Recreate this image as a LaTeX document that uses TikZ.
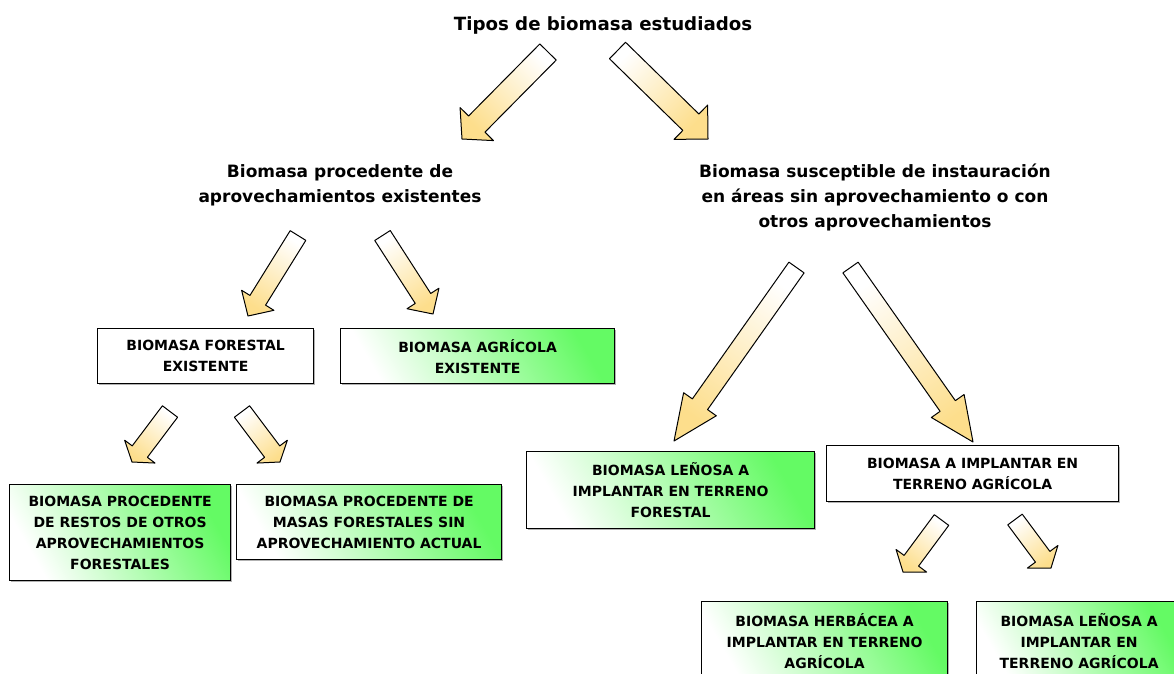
\documentclass[tikz,border=0pt]{standalone}
\usepackage{fontspec}
\setmainfont{DejaVu Sans}
\usetikzlibrary{calc,shadows}

\definecolor{boxgreen}{RGB}{100,250,100}
\definecolor{arrowfill}{RGB}{253,222,140}

\tikzset{
  heading/.style={font=\bfseries\fontsize{17}{25}\selectfont, align=center},
  box/.style={draw=black, line width=1.2pt, anchor=north west, align=center,
    font=\bfseries\fontsize{14}{21}\selectfont, inner sep=0pt,
    drop shadow={shadow xshift=1.2pt, shadow yshift=-1.2pt, fill=black!30, opacity=1}},
  whitebox/.style={box, fill=white},
  greenbox/.style={box, top color=boxgreen, bottom color=white, shading angle=-60},
  fatarrow/.style={draw=black, line width=1pt, line join=round},
}

% block arrow: tail, tip, half shaft, half head, head length
\newcommand\bigarrow[5]{%
  \pgfmathanglebetweenpoints{\pgfpointanchor{#1}{center}}{\pgfpointanchor{#2}{center}}%
  \pgfmathsetmacro\arrowshade{\pgfmathresult-90}%
  \coordinate (#1base) at ($(#2)!#5!(#1)$);
  \draw[fatarrow, top color=arrowfill, bottom color=white, shading angle=\arrowshade]
    ($(#1)!#3!90:(#2)$) -- ($(#1base)!#3!90:(#2)$) -- ($(#1base)!#4!90:(#2)$) -- (#2)
    -- ($(#1base)!#4!-90:(#2)$) -- ($(#1base)!#3!-90:(#2)$) -- ($(#1)!#3!-90:(#2)$) -- cycle;
}

\begin{document}
\begin{tikzpicture}[x=1pt,y=-1pt]
  \clip (0,0) rectangle (1174,673);
  \fill[white] (0,0) rectangle (1174,673);
  % headings
  \node[heading, font=\bfseries\fontsize{18.2}{25}\selectfont] (title) at (603,25)
    {Tipos de biomasa estudiados};
  \node[heading] (left) at (340,185)
    {Biomasa procedente de\\aprovechamientos existentes};
  \node[heading] (right) at (875,197)
    {Biomasa susceptible de instauración\\en áreas sin aprovechamiento o con\\otros aprovechamientos};
  % existing biomass
  \node[whitebox, minimum width=216pt, minimum height=55pt] (forestal) at (97,328)
    {BIOMASA FORESTAL\\EXISTENTE};
  \node[greenbox, minimum width=274pt, minimum height=55pt] (agricola) at (340,328)
    {BIOMASA AGRÍCOLA\\EXISTENTE};
  \node[greenbox, minimum width=221pt, minimum height=96pt] (restos) at (9,484)
    {BIOMASA PROCEDENTE\\DE RESTOS DE OTROS\\APROVECHAMIENTOS\\FORESTALES};
  \node[greenbox, minimum width=265pt, minimum height=75pt] (masas) at (236,484)
    {BIOMASA PROCEDENTE DE\\MASAS FORESTALES SIN\\APROVECHAMIENTO ACTUAL};
  % biomass to implant
  \node[greenbox, minimum width=288pt, minimum height=77pt] (lenosa) at (526,451)
    {BIOMASA LEÑOSA A\\IMPLANTAR EN TERRENO\\FORESTAL};
  \node[whitebox, minimum width=292pt, minimum height=56pt] (implantar) at (826,445)
    {BIOMASA A IMPLANTAR EN\\TERRENO AGRÍCOLA};
  \node[greenbox, minimum width=246pt, minimum height=79pt] (herbacea) at (701,601)
    {BIOMASA HERBÁCEA A\\IMPLANTAR EN TERRENO\\AGRÍCOLA};
  \node[greenbox, minimum width=205pt, minimum height=79pt] (lenosaagr) at (976,601)
    {BIOMASA LEÑOSA A\\IMPLANTAR EN\\TERRENO AGRÍCOLA};
  % arrows
  \coordinate (a1t) at (548,52);    \coordinate (a1h) at (462,139);
  \coordinate (a2t) at (617.5,50.5);\coordinate (a2h) at (708,139);
  \coordinate (a3t) at (298,235.5); \coordinate (a3h) at (248,316);
  \coordinate (a4t) at (382.5,235.5);\coordinate (a4h) at (433,314);
  \coordinate (a5t) at (170,411.5); \coordinate (a5h) at (132,462);
  \coordinate (a6t) at (242,411.5); \coordinate (a6h) at (280,462);
  \coordinate (a7t) at (796.5,267.5);\coordinate (a7h) at (674,441);
  \coordinate (a8t) at (850.5,267.5);\coordinate (a8h) at (973,442);
  \coordinate (a9t) at (941.5,520); \coordinate (a9h) at (903,572);
  \coordinate (a10t) at (1015,519.5);\coordinate (a10h) at (1051,568);
  \bigarrow{a1t}{a1h}{11.5pt}{23.5pt}{21pt}
  \bigarrow{a2t}{a2h}{11.5pt}{24pt}{24pt}
  \bigarrow{a3t}{a3h}{9.2pt}{19pt}{18.5pt}
  \bigarrow{a4t}{a4h}{9.2pt}{19pt}{18.5pt}
  \bigarrow{a5t}{a5h}{9.5pt}{19pt}{13pt}
  \bigarrow{a6t}{a6h}{9.5pt}{19pt}{13pt}
  \bigarrow{a7t}{a7h}{9.3pt}{20pt}{45pt}
  \bigarrow{a8t}{a8h}{9.3pt}{20pt}{44pt}
  \bigarrow{a9t}{a9h}{9pt}{19pt}{14pt}
  \bigarrow{a10t}{a10h}{9pt}{19pt}{14pt}
\end{tikzpicture}
\end{document}
